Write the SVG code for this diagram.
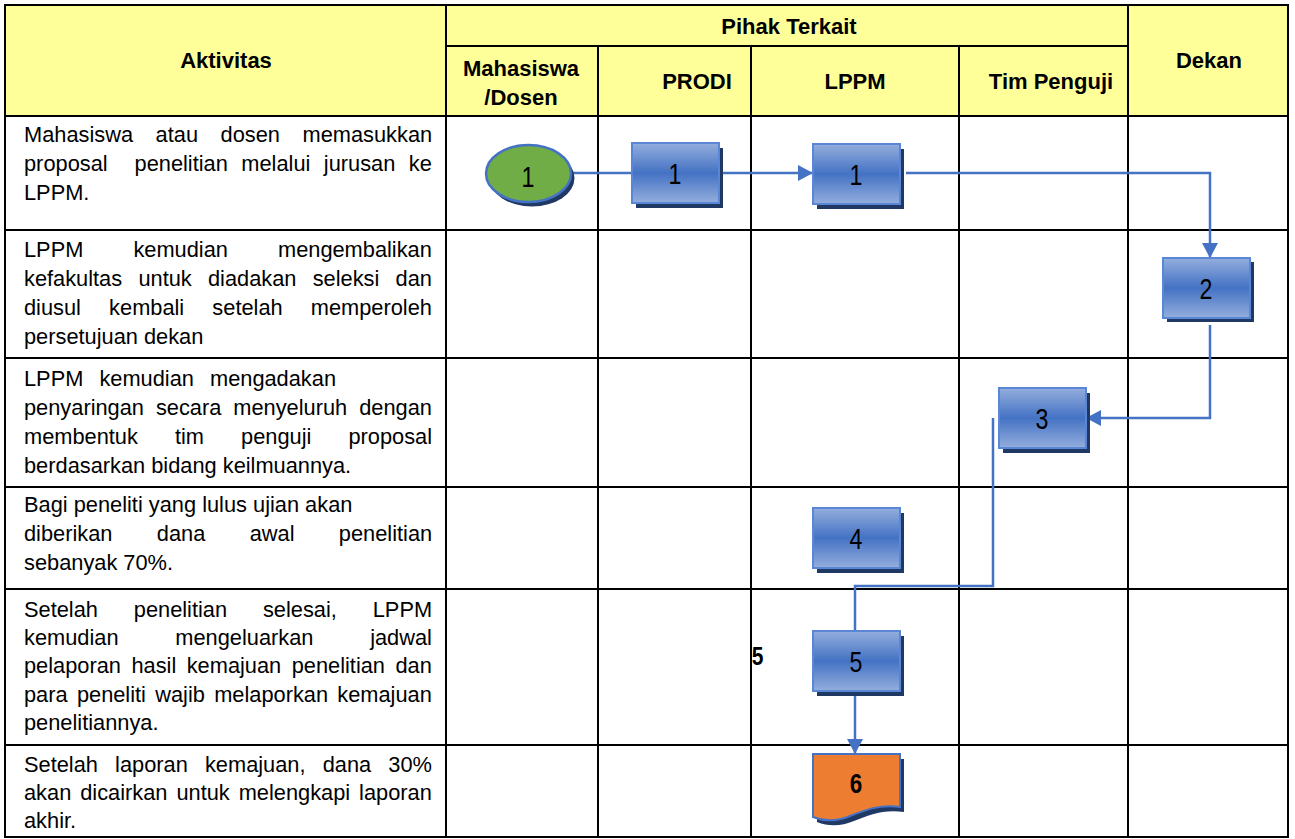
<svg xmlns="http://www.w3.org/2000/svg" width="1295" height="839" viewBox="0 0 1295 839">
<defs>
<style>
.hd{font-family:"Liberation Sans",Arial,sans-serif;font-weight:bold;font-size:22px;fill:#000;text-anchor:middle}
.tx{font-family:"Liberation Sans",Arial,sans-serif;font-size:21.8px;fill:#000}
.nl{font-family:"Liberation Sans",Arial,sans-serif;font-size:29px;fill:#000;text-anchor:middle}
.nb{font-family:"Liberation Sans",Arial,sans-serif;font-size:28px;font-weight:bold;fill:#000;text-anchor:middle}
.grid{stroke:#000;stroke-width:2;fill:none}
.box{fill:url(#bg);stroke:#5A86D6;stroke-width:2}
.sh{fill:#203864}
.con{fill:none;stroke:#4472C4;stroke-width:2.5}
</style>
<linearGradient id="bg" x1="0" y1="0" x2="0" y2="1">
<stop offset="0" stop-color="#94AEDD"/>
<stop offset="0.5" stop-color="#4472C4"/>
<stop offset="1" stop-color="#94AEDD"/>
</linearGradient>
<marker id="ar" markerUnits="userSpaceOnUse" markerWidth="16" markerHeight="16" refX="15" refY="8" orient="auto" viewBox="0 0 16 16">
<path d="M0,0 L15,8 L0,16 Z" fill="#4472C4"/>
</marker>
</defs>
<rect x="0" y="0" width="1295" height="839" fill="#fff"/>
<g id="table">
<rect x="5" y="5" width="1283" height="111" fill="#FFFF99"/>
<rect x="5" y="5" width="1283" height="832" class="grid"/>
<line x1="446" y1="46" x2="1128" y2="46" class="grid"/>
<line x1="5" y1="116" x2="1288" y2="116" class="grid"/>
<line x1="5" y1="230" x2="1288" y2="230" class="grid"/>
<line x1="5" y1="358" x2="1288" y2="358" class="grid"/>
<line x1="5" y1="487" x2="1288" y2="487" class="grid"/>
<line x1="5" y1="589" x2="1288" y2="589" class="grid"/>
<line x1="5" y1="745" x2="1288" y2="745" class="grid"/>
<line x1="446" y1="5" x2="446" y2="837" class="grid"/>
<line x1="598" y1="46" x2="598" y2="837" class="grid"/>
<line x1="751" y1="46" x2="751" y2="837" class="grid"/>
<line x1="959" y1="46" x2="959" y2="837" class="grid"/>
<line x1="1128" y1="5" x2="1128" y2="837" class="grid"/>
<text class="hd" x="226" y="68">Aktivitas</text>
<text class="hd" x="789" y="34">Pihak Terkait</text>
<text class="hd" x="521" y="76">Mahasiswa</text>
<text class="hd" x="521" y="105">/Dosen</text>
<text class="hd" x="697" y="89">PRODI</text>
<text class="hd" x="855" y="89">LPPM</text>
<text class="hd" x="1051" y="89">Tim Penguji</text>
<text class="hd" x="1209" y="68">Dekan</text>
</g>
<g id="activities">
<text class="tx" x="24" y="142" style="word-spacing:16.5px">Mahasiswa atau dosen memasukkan</text>
<text class="tx" x="24" y="171" xml:space="preserve" style="word-spacing:7.4px;white-space:pre">proposal  penelitian melalui jurusan ke</text>
<text class="tx" x="24" y="200">LPPM.</text>
<text class="tx" x="24" y="257" style="word-spacing:44px">LPPM kemudian mengembalikan</text>
<text class="tx" x="24" y="286" style="word-spacing:10.2px">kefakultas untuk diadakan seleksi dan</text>
<text class="tx" x="24" y="315" style="word-spacing:22.1px">diusul kembali setelah memperoleh</text>
<text class="tx" x="24" y="344">persetujuan dekan</text>
<text class="tx" x="24" y="386" style="word-spacing:10px">LPPM kemudian mengadakan</text>
<text class="tx" x="24" y="415" style="word-spacing:5.9px">penyaringan secara menyeluruh dengan</text>
<text class="tx" x="24" y="444" style="word-spacing:31px">membentuk tim penguji proposal</text>
<text class="tx" x="24" y="473">berdasarkan bidang keilmuannya.</text>
<text class="tx" x="24" y="512">Bagi peneliti yang lulus ujian akan</text>
<text class="tx" x="24" y="541" style="word-spacing:38.3px">diberikan dana awal penelitian</text>
<text class="tx" x="24" y="570">sebanyak 70%.</text>
<text class="tx" x="24" y="617" style="word-spacing:29.8px">Setelah penelitian selesai, LPPM</text>
<text class="tx" x="24" y="645" style="word-spacing:50.7px">kemudian mengeluarkan jadwal</text>
<text class="tx" x="24" y="673" style="word-spacing:4.4px">pelaporan hasil kemajuan penelitian dan</text>
<text class="tx" x="24" y="702" style="word-spacing:3.2px">para peneliti wajib melaporkan kemajuan</text>
<text class="tx" x="24" y="730">penelitiannya.</text>
<text class="tx" x="24" y="772" style="word-spacing:11.1px">Setelah laporan kemajuan, dana 30%</text>
<text class="tx" x="24" y="800" style="word-spacing:2.9px">akan dicairkan untuk melengkapi laporan</text>
<text class="tx" x="24" y="828">akhir.</text>
</g>
<g id="connectors">
<line x1="571" y1="173" x2="632" y2="173" class="con"/>
<line x1="719" y1="173" x2="813" y2="173" class="con" marker-end="url(#ar)"/>
<polyline points="906,173 1210,173 1210,258" class="con" marker-end="url(#ar)"/>
<polyline points="1210,325 1210,418 1086,418" class="con" marker-end="url(#ar)"/>
<polyline points="993,418 993,586 855,586 855,632" class="con"/>
<line x1="855" y1="692" x2="855" y2="754" class="con" marker-end="url(#ar)"/>
</g>
<g id="n-start">
<ellipse cx="532" cy="178" rx="42.5" ry="28.5" class="sh"/>
<ellipse cx="528.5" cy="173.5" rx="42.5" ry="28.5" fill="#70AD47" stroke="#4472C4" stroke-width="2.5"/>
<text class="nl" transform="translate(528,187) scale(0.8,1)">1</text>
</g>
<g id="n-prodi1">
<rect x="636" y="148" width="87" height="60" class="sh"/>
<rect x="632" y="143" width="87" height="60" class="box"/>
<text class="nl" transform="translate(675,183.5) scale(0.8,1)">1</text>
</g>
<g id="n-lppm1">
<rect x="817" y="149" width="87" height="60" class="sh"/>
<rect x="813" y="144" width="87" height="60" class="box"/>
<text class="nl" transform="translate(856,184.5) scale(0.8,1)">1</text>
</g>
<g id="n-2">
<rect x="1167" y="262" width="87" height="60" class="sh"/>
<rect x="1163" y="258" width="87" height="60" class="box"/>
<text class="nl" transform="translate(1206,298.5) scale(0.8,1)">2</text>
</g>
<g id="n-3">
<rect x="1003" y="393" width="87" height="60" class="sh"/>
<rect x="999" y="388" width="87" height="60" class="box"/>
<text class="nl" transform="translate(1042,428.5) scale(0.8,1)">3</text>
</g>
<g id="n-4">
<rect x="817" y="513" width="87" height="60" class="sh"/>
<rect x="813" y="508" width="87" height="60" class="box"/>
<text class="nl" transform="translate(856,548.5) scale(0.8,1)">4</text>
</g>
<g id="n-5">
<rect x="817" y="636" width="87" height="60" class="sh"/>
<rect x="813" y="631" width="87" height="60" class="box"/>
<text class="nl" transform="translate(856,671.5) scale(0.8,1)">5</text>
<text class="nb" transform="translate(757.5,665) scale(0.84,1)" style="font-size:25px">5</text>
</g>
<g id="n-6">
<path d="M817,759 H904 V812 C884,809 869,815 854,821 C842,826 829,827 817,822 Z" class="sh"/>
<path d="M813,754 H900 V807 C880,804 865,810 850,816 C838,821 825,822 813,817 Z" fill="#ED7D31" stroke="#4472C4" stroke-width="2"/>
<text class="nb" transform="translate(856,793) scale(0.8,1)">6</text>
</g>
</svg>
